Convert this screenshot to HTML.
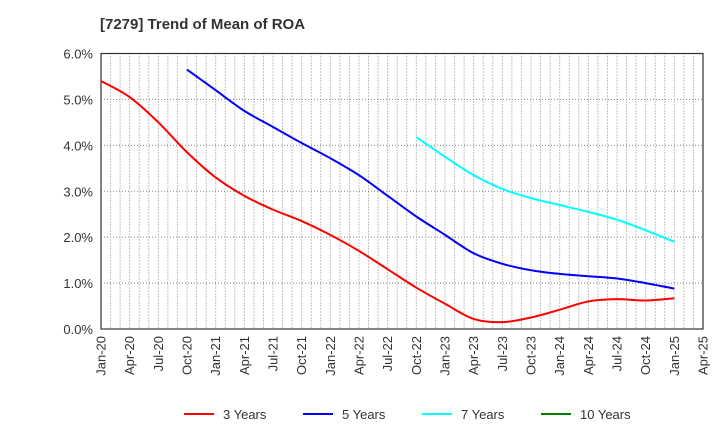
<!DOCTYPE html>
<html><head><meta charset="utf-8"><style>
body{margin:0;background:#fff;font-family:"Liberation Sans",sans-serif}
</style></head><body>
<svg id="c" width="720" height="440" xmlns="http://www.w3.org/2000/svg">
<text x="100" y="29" font-size="15" font-weight="bold" fill="#333">[7279]  Trend of Mean of ROA</text>
</svg>
<script>
const xLabels=["Jan-20","Apr-20","Jul-20","Oct-20","Jan-21","Apr-21","Jul-21","Oct-21","Jan-22","Apr-22","Jul-22","Oct-22","Jan-23","Apr-23","Jul-23","Oct-23","Jan-24","Apr-24","Jul-24","Oct-24","Jan-25","Apr-25"];
const yTicks=[0,1,2,3,4,5,6];
const s3=[5.4,5.05,4.5,3.85,3.3,2.9,2.6,2.35,2.05,1.7,1.3,0.9,0.55,0.22,0.15,0.25,0.42,0.6,0.65,0.62,0.67];
const s3Start=0;
const s5=[5.65,5.2,4.75,4.4,4.05,3.72,3.35,2.9,2.45,2.05,1.65,1.42,1.28,1.2,1.15,1.1,1.0,0.88];
const s5Start=3;
const s7=[4.18,3.75,3.35,3.05,2.85,2.7,2.55,2.38,2.15,1.9];
const s7Start=11;
const s10=[];
const s10Start=0;
const L=101,R=703,T=53.5,B=329,NS="http://www.w3.org/2000/svg";
const svg=document.getElementById('c');
const X=q=>L+q*(R-L)/(xLabels.length-1);
const Y=v=>B-v*(B-T)/6;
function mk(t,a,p){const e=document.createElementNS(NS,t);for(const k in a)e.setAttribute(k,a[k]);(p||svg).appendChild(e);return e;}
const grid=mk('g',{});


for(let m=1;m<(xLabels.length-1)*3;m++){const x=L+m*(R-L)/((xLabels.length-1)*3);mk('line',{x1:x,x2:x,y1:T,y2:B,stroke:'#888','stroke-dasharray':'1,2','stroke-width':1},grid);}
yTicks.forEach(v=>{if(v>0&&v<6)mk('line',{x1:L,x2:R,y1:Y(v),y2:Y(v),stroke:'#888','stroke-dasharray':'1,2'},grid);
const t=mk('text',{x:L-8,y:Y(v)+5,'text-anchor':'end','font-size':13,fill:'#333'});t.textContent=v.toFixed(1)+'%';

});
const fr=mk('rect',{x:L,y:T,width:R-L,height:B-T,fill:'none',stroke:'#333','stroke-width':1.2});


xLabels.forEach((s,i)=>{const x=X(i)+4.5;const t=mk('text',{x:x,y:B+7,'text-anchor':'end','font-size':13,fill:'#333',transform:`rotate(-90 ${x} ${B+7})`});t.textContent=s;

});
function path(arr,st){const p=arr.map((v,i)=>[X(st+i),Y(v)]);if(p.length<2)return '';let d=`M${p[0][0]},${p[0][1]}`;
for(let i=0;i<p.length-1;i++){const p0=p[i-1]||p[i],p1=p[i],p2=p[i+1],p3=p[i+2]||p2;
d+=`C${p1[0]+(p2[0]-p0[0])/6},${p1[1]+(p2[1]-p0[1])/6} ${p2[0]-(p3[0]-p1[0])/6},${p2[1]-(p3[1]-p1[1])/6} ${p2[0]},${p2[1]}`;}return d;}
[[s3,s3Start,'#ff0000','line-3-years'],[s5,s5Start,'#0000ff','line-5-years'],[s7,s7Start,'#00ffff','line-7-years'],[s10,s10Start,'#008000','line-10-years']].forEach(([a,s,c,n])=>{
const d=path(a,s);if(!d)return;const e=mk('path',{d:d,fill:'none',stroke:c,'stroke-width':2});

});
[['3 Years','#ff0000',184],['5 Years','#0000ff',303],['7 Years','#00ffff',422],['10 Years','#008000',541]].forEach(([s,c,x])=>{
const g=mk('g',{});


mk('line',{x1:x,x2:x+30,y1:414,y2:414,stroke:c,'stroke-width':2},g);
const t=mk('text',{x:x+39,y:419,'font-size':13,fill:'#333'},g);t.textContent=s;});
</script>
</body></html>
